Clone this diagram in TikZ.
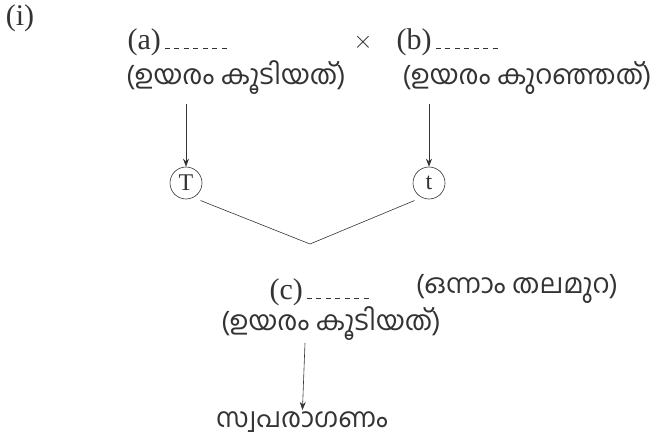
\documentclass[tikz,border=0pt]{standalone}
\usepackage{fontspec}
\setmainfont{Liberation Serif}
\newfontfamily\mlfont[Script=Malayalam]{Hind Kochi}
\usetikzlibrary{positioning,arrows.meta,calc}
\newcommand{\dash}{\rule{5pt}{1.1pt}\hspace{4.5pt}}
\newcommand{\blanks}{\hspace{4pt}\dash\dash\dash\dash\dash\dash\rule{5pt}{1.1pt}}
\begin{document}
\begin{tikzpicture}[x=1pt,y=-1pt,font=\fontsize{30}{33}\selectfont,color=black!80,
	ml/.style={font=\mlfont\fontsize{27}{30}\selectfont},
	allele/.style={draw,semithick,circle,inner sep=0pt,minimum size=32pt,font=\fontsize{24}{26}\selectfont},
	arr/.style={-{Stealth[length=8pt,width=6pt]},semithick}]
	\useasboundingbox (0,0) rectangle (659,444);
	\node (num) at (20,18) {(i)};
	% parents
	\node[anchor=west] (pa) at (124,42) {(a)\blanks};
	\node[ml] (ta) at (236,78) {(ഉയരം കൂടിയത്)};
	\node (cross) at (363,42) {$\times$};
	\node[anchor=west] (pb) at (393,42) {(b)\blanks};
	\node[ml] (tb) at (527,78) {(ഉയരം കുറഞ്ഞത്)};
	% gametes
	\node[allele] (gT) at (186,183) {T};
	\node[allele] (gt) at (429,183) {t};
	\coordinate (meet) at (310,244);
	\draw[arr] (186,104) -- (gT);
	\draw[arr] (429,104) -- (gt);
	\draw[semithick] ($(gT.south east)+(3,6)$) -- (meet) -- ($(gt.south west)+(-3,6)$);
	% first generation
	\node[anchor=west] (pc) at (266,292) {(c)\blanks};
	\node[ml] (gen) at (517,289) {(ഒന്നാം തലമുറ)};
	\node[ml] (tc) at (331,324) {(ഉയരം കൂടിയത്)};
	\node[ml,anchor=base,inner sep=1pt] (self) at (302,427) {സ്വപരാഗണം};
	\draw[arr] (305,343) -- (self);
\end{tikzpicture}
\end{document}
